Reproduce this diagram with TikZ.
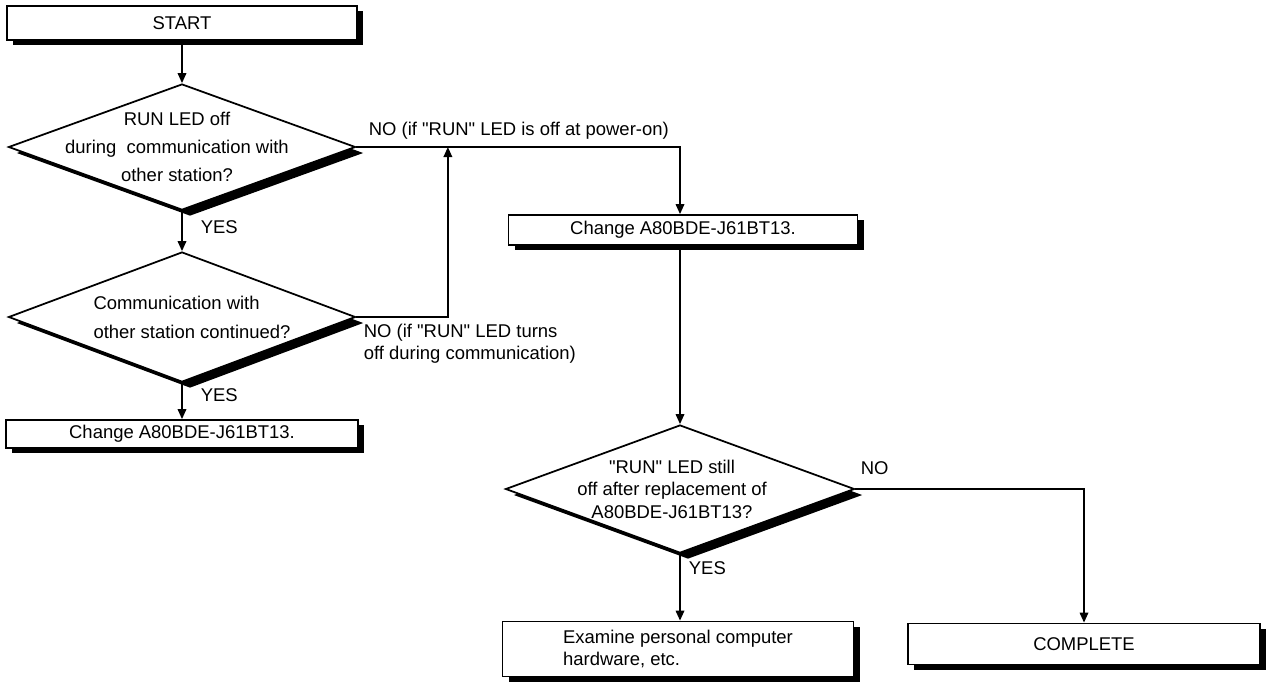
\documentclass[tikz,border=0pt]{standalone}
\usepackage{fontspec}
\setmainfont{Liberation Sans}[Ligatures=TeXOff]
\usetikzlibrary{positioning,arrows.meta,calc,shapes.geometric,shadows}

\begin{document}
\begin{tikzpicture}[
        font=\fontsize{10.5}{13}\selectfont,
        line width=1pt,
        box/.style={
            draw=black,
            fill=white,
            line width=1pt,
            minimum height=0.6cm,
            inner sep=2pt,
            align=center,
            drop shadow={shadow xshift=0.12cm, shadow yshift=-0.1cm, opacity=1, fill=black}
        },
        decision/.style={
            shape=diamond,
            draw=black,
            fill=white,
            line width=1pt,
            minimum width=6.94cm,
            minimum height=2.56cm,
            inner sep=0pt,
            drop shadow={shadow xshift=0.16cm, shadow yshift=-0.12cm, opacity=1, fill=black}
        },
        dtext/.style={
            align=center,
            inner sep=0pt
        },
        lbl/.style={
            anchor=west,
            inner sep=0pt
        },
        arr/.style={
            -{Triangle[length=2mm,width=1.7mm]},
            line width=1pt,
            draw=black
        }
    ]

    \useasboundingbox (0,0) rectangle (25.32,-13.64);

    % =========================
    % Left column
    % =========================
    \node[box, minimum width=7cm, minimum height=0.68cm] (start) at (3.64,-0.46) {START};

    \node[decision, minimum height=2.52cm,
          label={[dtext, xshift=-0.1cm, font=\fontsize{10.5}{15.9}\selectfont]center:{RUN LED off\\during~ communication with\\other station?}}]
          (d1) at (3.64,-2.94) {};

    \node[decision, minimum height=2.6cm,
          label={[dtext, align=left, xshift=0.2cm, font=\fontsize{10.5}{16.4}\selectfont]center:{Communication with\\other station continued?}}]
          (d2) at (3.64,-6.34) {};

    \node[box, minimum width=7.04cm, minimum height=0.56cm] (chg1) at (3.64,-8.68) {Change A80BDE-J61BT13.};

    \coordinate (back) at ([xshift=1.83cm]d1.east);

    % =========================
    % Right column
    % =========================
    \node[box, minimum width=6.98cm] (chg2) at (13.66,-4.6) {Change A80BDE-J61BT13.};

    \node[decision, minimum width=6.98cm,
          label={[dtext, xshift=-0.16cm, font=\fontsize{10.5}{12.8}\selectfont]center:{"RUN" LED still\\off after replacement of\\A80BDE-J61BT13?}}]
          (d3) at (13.6,-9.78) {};

    \node[box, minimum width=7.02cm, minimum height=1.1cm, align=left] (exam) at (13.56,-12.98)
        {Examine personal computer\\hardware, etc.};

    \node[box, minimum width=7.04cm, minimum height=0.82cm] (complete) at (21.68,-12.88) {COMPLETE};

    % =========================
    % Connectors
    % =========================
    \draw[arr] (start.south) -- (d1.north);
    \draw[arr] (d1.south) -- (d2.north);
    \draw[arr] (d2.south) -- (chg1.north);
    \draw[arr] (d1.east) -| (d3.north |- chg2.north);
    \draw[arr] (d2.east) -| (back);
    \draw[arr] (chg2.south -| d3.north) -- (d3.north);
    \draw[arr] (d3.south) -- (d3.south |- exam.north);
    \draw[arr] (d3.east) -| (complete.north);

    % =========================
    % Branch labels
    % =========================
    \node[lbl] (yes1) at (4.0,-4.54) {YES};
    \node[lbl] (yes2) at (4.0,-7.9) {YES};
    \node[lbl] (no1) at (7.36,-2.62) {NO (if "RUN" LED is off at power-on)};
    \node[lbl, align=left, font=\fontsize{10.5}{12.5}\selectfont] (no2) at (7.26,-6.88)
        {NO (if "RUN" LED turns\\off during communication)};
    \node[lbl] (yes3) at (13.76,-11.36) {YES};
    \node[lbl] (no3) at (17.2,-9.36) {NO};

\end{tikzpicture}
\end{document}
